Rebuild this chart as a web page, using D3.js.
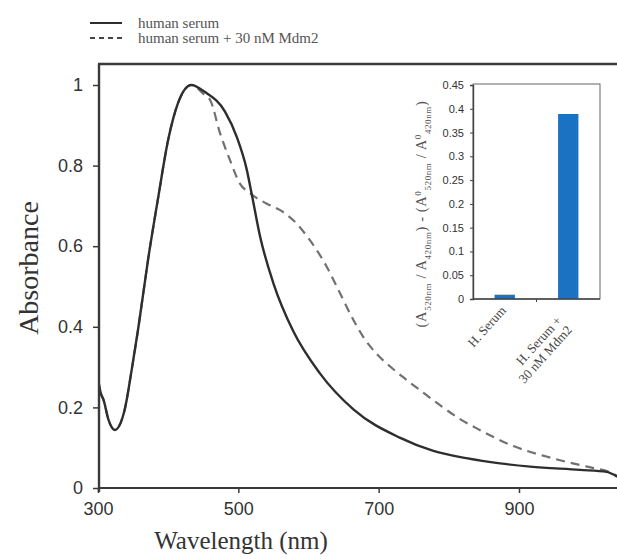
<!DOCTYPE html>
<html>
<head>
<meta charset="utf-8">
<script src="https://cdn.jsdelivr.net/npm/d3@7"></script>
<style>
  body { margin: 0; background: #fff; }
  svg { display: block; }
</style>
</head>
<body>
<script>
// spectra (wavelength nm, normalised absorbance)
const wavelength = [300, 304, 308, 315, 324, 338, 348, 357, 372, 386, 400, 414, 433, 452, 481, 498, 512, 519, 531, 550, 578, 616, 664, 730, 778, 825, 873, 916, 987, 1025, 1040]
const serum = [0.27, 0.235, 0.218, 0.169, 0.144, 0.194, 0.293, 0.392, 0.574, 0.723, 0.864, 0.955, 1.0, 0.983, 0.934, 0.87, 0.79, 0.73, 0.624, 0.508, 0.39, 0.285, 0.195, 0.125, 0.092, 0.074, 0.061, 0.053, 0.045, 0.04, 0.028]

const wavelengthMdm2 = [300, 304, 308, 315, 324, 338, 348, 357, 372, 386, 400, 414, 433, 452, 460, 474, 488, 502, 517, 540, 559, 578, 602, 626, 645, 664, 678, 697, 716, 740, 764, 787, 816, 844, 892, 939, 987, 1005, 1025, 1040]
const serumMdm2 = [0.27, 0.235, 0.218, 0.169, 0.144, 0.194, 0.293, 0.392, 0.574, 0.723, 0.864, 0.955, 1.0, 0.975, 0.962, 0.88, 0.814, 0.756, 0.731, 0.706, 0.69, 0.665, 0.615, 0.549, 0.483, 0.417, 0.375, 0.333, 0.302, 0.268, 0.236, 0.206, 0.171, 0.144, 0.104, 0.078, 0.057, 0.05, 0.042, 0.03]

const xTicks = [300, 500, 700, 900]
const yTicks = [0, 0.2, 0.4, 0.6, 0.8, 1]

// inset bars
const insetCats = ['H. Serum', 'H. Serum + 30 nM Mdm2']
const insetLabels = [['H. Serum'], ['H. Serum +', '30 nM Mdm2']]
const insetValues = [0.009, 0.389]
const insetTicks = [0, 0.05, 0.1, 0.15, 0.2, 0.25, 0.3, 0.35, 0.4, 0.45]

const legendNames = ['human serum', 'human serum + 30 nM Mdm2']

//------------------------------------------------------------------------------

const W = 617, H = 559
const plot = { left: 99, right: 617, top: 64, bottom: 488 }

const svg = d3.select("body")
    .append("svg")
    .attr("width", W)
    .attr("height", H)

const x = d3.scaleLinear()
    .domain([300, 900])
    .range([98, 519])

const y = d3.scaleLinear()
    .domain([0, 1])
    .range([488, 85])

//------------------------------------------------------------------------------

const sans = "Liberation Sans, Arial, sans-serif"
const serif = "Liberation Serif, Times New Roman, serif"
const axisColor = "#3a3a3a"

svg.append("clipPath").attr("id", "plotclip")
    .append("rect")
    .attr("x", plot.left).attr("y", plot.top)
    .attr("width", plot.right - plot.left).attr("height", plot.bottom - plot.top + 2)

const line = d3.line()
    .x(d => x(d[0]))
    .y(d => y(d[1]))
    .curve(d3.curveMonotoneX)

svg.append("path")
    .datum(d3.zip(wavelengthMdm2, serumMdm2))
    .attr("d", line)
    .attr("clip-path", "url(#plotclip)")
    .attr("fill", "none")
    .attr("stroke", "#717171")
    .attr("stroke-width", 2.2)
    .attr("stroke-dasharray", "9,6")

svg.append("path")
    .datum(d3.zip(wavelength, serum))
    .attr("d", line)
    .attr("clip-path", "url(#plotclip)")
    .attr("fill", "none")
    .attr("stroke", "#2e2e2e")
    .attr("stroke-width", 2.4)

// axes
const xAxis = svg.append("g")
    .attr("transform", "translate(0," + plot.bottom + ")")
    .call(d3.axisBottom(x).tickValues(xTicks).tickSize(5).tickPadding(9).tickFormat(d3.format("d")))
xAxis.select(".domain").remove()
xAxis.append("line")
    .attr("x1", plot.left).attr("x2", plot.right)
    .attr("stroke", axisColor).attr("stroke-width", 2)

const yAxis = svg.append("g")
    .attr("transform", "translate(" + plot.left + ",0)")
    .call(d3.axisLeft(y).tickValues(yTicks).tickSize(6).tickPadding(10).tickFormat(d => d === 0 || d === 1 ? d : d3.format(".1f")(d)))
yAxis.select(".domain").remove()
yAxis.append("line")
    .attr("y1", plot.top).attr("y2", plot.bottom + 4)
    .attr("stroke", axisColor).attr("stroke-width", 2.4)

svg.selectAll(".tick line").attr("stroke", axisColor).attr("stroke-width", 1.5)
svg.selectAll(".tick text")
    .attr("fill", "#333")
    .style("font-family", sans)
    .style("font-size", "18px")

// top frame
svg.append("line")
    .attr("x1", plot.left - 1).attr("x2", plot.right)
    .attr("y1", plot.top).attr("y2", plot.top)
    .attr("stroke", axisColor).attr("stroke-width", 2.4)

svg.append("text")
    .attr("text-anchor", "middle")
    .attr("x", 241)
    .attr("y", 549)
    .style("font-family", serif)
    .style("font-size", "25px")
    .attr("fill", "#333")
    .text("Wavelength (nm)")

svg.append("text")
    .attr("text-anchor", "middle")
    .attr("transform", "translate(38,268) rotate(-90)")
    .style("font-family", serif)
    .style("font-size", "28px")
    .attr("fill", "#333")
    .text("Absorbance")

//------------------------------------------------------------------------------
// legend

const legend = svg.append("g")
legendNames.forEach((name, i) => {
    const ly = 23 + i * 15
    legend.append("line")
        .attr("x1", 90).attr("x2", 122)
        .attr("y1", ly).attr("y2", ly)
        .attr("stroke", i === 0 ? "#2e2e2e" : "#444")
        .attr("stroke-width", 2)
        .attr("stroke-dasharray", i === 0 ? null : "5,4")
    legend.append("text")
        .attr("x", 138)
        .attr("y", ly + 5)
        .style("font-family", serif)
        .style("font-size", "15px")
        .attr("fill", "#555")
        .text(name)
})

//------------------------------------------------------------------------------
// inset bar chart

const inset = { left: 473, right: 600, top: 84, bottom: 299 }

const ix = d3.scaleBand()
    .domain(insetCats)
    .range([inset.left, inset.right])
    .paddingInner(0.68)
    .paddingOuter(0.34)

const iy = d3.scaleLinear()
    .domain([0, 0.45])
    .range([inset.bottom, 85])

const ig = svg.append("g")

ig.append("rect")
    .attr("x", inset.left).attr("y", inset.top)
    .attr("width", inset.right - inset.left)
    .attr("height", inset.bottom - inset.top)
    .attr("fill", "none")
    .attr("stroke", "#666")
    .attr("stroke-width", 1)

ig.selectAll(".bar")
    .data(insetValues)
    .join("rect")
    .attr("class", "bar")
    .attr("x", (d, i) => ix(insetCats[i]))
    .attr("width", ix.bandwidth())
    .attr("y", d => iy(d))
    .attr("height", d => iy(0) - iy(d))
    .attr("fill", "#1b72c2")

const iyAxis = ig.append("g")
    .attr("transform", "translate(" + inset.left + ",0)")
    .call(d3.axisLeft(iy).tickValues(insetTicks).tickSize(3).tickPadding(6).tickFormat(d => d3.format("")(+d.toFixed(2))))
iyAxis.select(".domain").attr("stroke", "#444").attr("stroke-width", 1.4)
iyAxis.selectAll(".tick line").attr("stroke", "#444")
iyAxis.selectAll(".tick text")
    .attr("fill", "#333")
    .style("font-family", sans)
    .style("font-size", "11px")

ig.append("line")
    .attr("x1", inset.left).attr("x2", inset.right)
    .attr("y1", inset.bottom).attr("y2", inset.bottom)
    .attr("stroke", "#444").attr("stroke-width", 1.4)

// separator tick between categories
ig.append("line")
    .attr("x1", (inset.left + inset.right) / 2).attr("x2", (inset.left + inset.right) / 2)
    .attr("y1", inset.bottom).attr("y2", inset.bottom + 3)
    .attr("stroke", "#444")

insetLabels.forEach((lines, i) => {
    const cx = ix(insetCats[i]) + ix.bandwidth() / 2
    const t = ig.append("text")
        .attr("transform", "translate(" + (cx + 2 - (lines.length - 1) * 8) + "," + (inset.bottom + 12 + (lines.length - 1) * 10) + ") rotate(-48)")
        .attr("text-anchor", "end")
        .style("font-family", serif)
        .style("font-size", "13px")
        .attr("fill", "#444")
    lines.forEach((l, j) => {
        t.append("tspan")
            .attr("x", 0)
            .attr("dy", j === 0 ? 0 : 14)
            .text(l)
    })
})

// inset y label with subscripts
const yl = ig.append("text")
    .attr("transform", "translate(426,214) rotate(-90)")
    .attr("text-anchor", "middle")
    .style("font-family", serif)
    .style("font-size", "14.5px")
    .style("letter-spacing", "0.6px")
    .attr("fill", "#555")
const parts = [
    ["(A", 0], ["520nm", 1], [" / A", 0], ["420nm", 1], [") - (A", 0], ["0", 2], ["520nm", 1], [" / A", 0], ["0", 2], ["420nm", 1], [")", 0]
]
parts.forEach(([s, k]) => {
    const sp = yl.append("tspan").text(s)
    if (k === 1) sp.attr("baseline-shift", "sub").style("font-size", "9px")
    if (k === 2) sp.attr("baseline-shift", "super").style("font-size", "9px")
})
</script>
</body>
</html>
